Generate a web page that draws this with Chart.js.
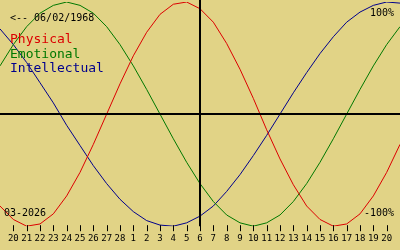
<!DOCTYPE html>
<html>
<head>
<meta charset="utf-8">
<script src="https://cdn.jsdelivr.net/npm/chart.js@4/dist/chart.umd.min.js"></script>
<style>
  html, body { margin: 0; padding: 0; background: #e1d386; }
  canvas { display: block; }
</style>
</head>
<body>
<canvas id="bio" width="400" height="250"></canvas>
<script>
// dias de 19/02 a 21/03 (o primeiro e o último ficam fora das legendas)
var dayLabels = ['19','20','21','22','23','24','25','26','27','28',
  '1','2','3','4','5','6','7','8','9','10','11','12','13','14','15','16','17','18','19','20','21'];
var physical = [-0.82, -0.94, -1.00, -0.98, -0.89, -0.73, -0.52, -0.27, 0, 0.27, 0.52, 0.73, 0.89, 0.98, 1.00,
  0.94, 0.82, 0.63, 0.40, 0.14, -0.14, -0.40, -0.63, -0.82, -0.94, -1.00, -0.98, -0.89, -0.73, -0.52, -0.27];
var emotional = [0.43, 0.62, 0.78, 0.90, 0.97, 1.00, 0.97, 0.90, 0.78, 0.62, 0.43, 0.22, 0, -0.22, -0.43,
  -0.62, -0.78, -0.90, -0.97, -1.00, -0.97, -0.90, -0.78, -0.62, -0.43, -0.22, 0, 0.22, 0.43, 0.62, 0.78];
var intellectual = [0.76, 0.62, 0.46, 0.28, 0.10, -0.10, -0.28, -0.46, -0.62, -0.76, -0.87, -0.95, -0.99, -1.00, -0.97,
  -0.91, -0.82, -0.69, -0.54, -0.37, -0.19, 0, 0.19, 0.37, 0.54, 0.69, 0.82, 0.91, 0.97, 1.00, 0.99];
var todayIndex = 15; // 6 de março
var birthText = '<-- 06/02/1968';
var monthText = '03-2026';

var corFisico = '#dc0000', corEmocional = '#007800', corIntelecto = '#00008c';
var mono = '"DejaVu Sans Mono", monospace';

var bioPlugin = {
  id: 'bio',
  beforeDraw: function(chart) {
    var c = chart.ctx;
    c.save();
    c.fillStyle = '#e1d386';
    c.fillRect(0, 0, chart.width, chart.height);
    c.restore();
  },
  afterDatasetsDraw: function(chart) {
    var c = chart.ctx, a = chart.chartArea;
    var sx = chart.scales.x;
    var x0 = sx.getPixelForValue(todayIndex);
    var y0 = chart.scales.y.getPixelForValue(0);
    c.save();
    c.strokeStyle = '#000';
    c.lineWidth = 2;
    c.beginPath();
    c.moveTo(0, y0); c.lineTo(chart.width, y0);
    c.moveTo(x0, 0); c.lineTo(x0, a.bottom);
    c.stroke();

    // marcas dos dias (sem a primeira e a última)
    c.lineWidth = 1;
    c.beginPath();
    for (var i = 1; i < dayLabels.length - 1; i++) {
      var tx = Math.round(sx.getPixelForValue(i)) + 0.5;
      c.moveTo(tx, a.bottom - 1); c.lineTo(tx, a.bottom + 5);
    }
    c.stroke();

    c.textBaseline = 'alphabetic';
    c.font = '10px ' + mono;
    c.fillStyle = '#000';
    c.textAlign = 'left';
    c.fillText(birthText, 10, 21);
    c.fillText(monthText, 4, 216);
    c.textAlign = 'right';
    c.fillText('100%', 394, 16);
    c.fillText('-100%', 394, 216);

    c.textAlign = 'left';
    c.font = '13px ' + mono;
    c.fillStyle = corFisico; c.fillText('Physical', 10, 43);
    c.fillStyle = corEmocional; c.fillText('Emotional', 10, 58);
    c.fillStyle = corIntelecto; c.fillText('Intellectual', 10, 72);
    c.restore();
  }
};

function serie(dados, cor) {
  return { data: dados, borderColor: cor, borderWidth: 1, pointRadius: 0, tension: 0, fill: false };
}

new Chart(document.getElementById('bio').getContext('2d'), {
  type: 'line',
  data: {
    labels: dayLabels,
    datasets: [serie(physical, corFisico), serie(emotional, corEmocional), serie(intellectual, corIntelecto)]
  },
  options: {
    responsive: false,
    animation: false,
    devicePixelRatio: 1,
    layout: { padding: { top: 2, left: 0, right: 0, bottom: 6 } },
    plugins: { legend: { display: false }, tooltip: { enabled: false } },
    scales: {
      x: {
        offset: false,
        border: { display: false },
        grid: { display: false, drawTicks: true, tickLength: 7 },
        ticks: {
          autoSkip: false, maxRotation: 0, padding: 0, color: '#000',
          font: { family: mono, size: 9 },
          callback: function(v, i) { return (i === 0 || i === dayLabels.length - 1) ? '' : dayLabels[i]; }
        }
      },
      y: { display: false, min: -1, max: 1 }
    }
  },
  plugins: [bioPlugin]
});
</script>
</body>
</html>
